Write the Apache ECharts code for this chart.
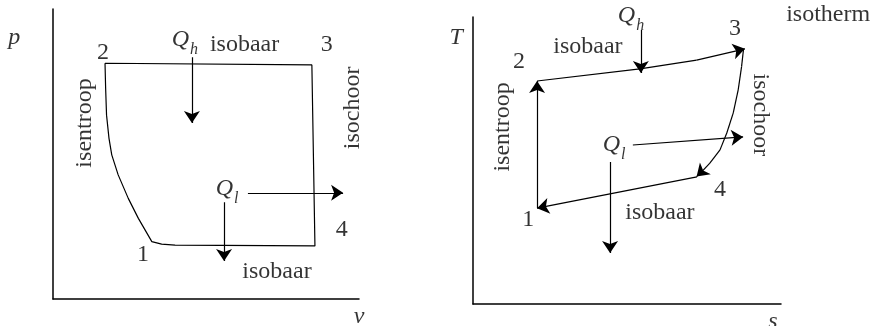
<!DOCTYPE html>
<html>
<head>
<meta charset="utf-8">
<script src="https://cdn.jsdelivr.net/npm/echarts@6/dist/echarts.min.js"></script>
<style>
  html, body { margin: 0; padding: 0; background: #fff; }
  #chart { width: 871px; height: 326px; }
</style>
</head>
<body>
<div id="chart"></div>
<script>
// left: p-v diagram (units 0..10 on both axes)
const pvCycle = [
  [1.70, 8.13], [8.46, 8.07], [8.56, 1.83], [3.99, 1.86], [3.55, 1.89], [3.23, 1.98],
  [2.79, 2.78], [2.46, 3.47], [2.13, 4.28], [1.92, 4.97], [1.83, 5.54], [1.75, 6.34],
  [1.72, 7.27], [1.70, 8.13]
];
const pvArrows = [
  [[4.54, 8.34], [4.54, 6.07]],
  [[6.37, 3.66], [9.48, 3.66]],
  [[5.59, 3.34], [5.59, 1.31]]
];
const pvLabels = [
  [1.63, 8.48, '2'], [8.95, 8.76, '3'], [9.44, 2.38, '4'], [2.94, 1.52, '1'],
  [4.31, 8.90, 'Qh'], [6.26, 8.76, 'isobaar'], [5.69, 3.76, 'Ql'], [7.32, 0.93, 'isobaar']
];
const pvVertLabels = [[1.05, 6.07, 'isentroop'], [9.80, 6.59, 'isochoor']];
const pvAxisNames = [[-1.27, 9.00, 'p'], [10.0, -0.62, 'v']];

// right: T-s diagram
const tsEdges = [
  [[2.08, 7.77], [5.42, 8.19], [7.26, 8.50], [8.83, 8.89]],
  [[8.78, 8.85], [8.72, 8.27], [8.61, 7.46], [8.45, 6.66], [8.24, 5.96], [8.02, 5.37],
   [7.69, 4.91], [7.43, 4.61], [7.26, 4.44]],
  [[7.27, 4.43], [2.08, 3.34]],
  [[2.08, 3.34], [2.08, 7.77]]
];
const tsArrows = [
  [[5.45, 9.55], [5.45, 8.05]],
  [[5.19, 5.54], [8.77, 5.82]],
  [[4.45, 4.95], [4.45, 1.78]]
];
const tsLabels = [
  [1.49, 8.43, '2'], [8.51, 9.58, '3'], [8.02, 3.97, '4'], [1.79, 2.93, '1'],
  [5.13, 10.0, 'Qh'], [3.73, 8.95, 'isobaar'], [4.58, 5.50, 'Ql'], [6.07, 3.17, 'isobaar'],
  [11.53, 10.07, 'isotherm']
];
const tsVertLabelsUp = [[0.97, 6.17, 'isentroop']];
const tsVertLabelsDown = [[9.32, 6.59, 'isochoor']];
const tsAxisNames = [[-0.55, 9.27, 'T'], [9.74, -0.63, 's']];

const serif = 'Liberation Serif';

function axisPair(i) {
  return {
    type: 'value', gridIndex: i, min: 0, max: 10,
    axisLine: { onZero: false, lineStyle: { color: '#000', width: 1.5 } },
    axisTick: { show: false }, axisLabel: { show: false }, splitLine: { show: false }
  };
}

function textSeries(idx, labels, extra) {
  return {
    type: 'scatter', xAxisIndex: idx, yAxisIndex: idx, clip: false, silent: true,
    symbolSize: 1, itemStyle: { color: 'transparent' },
    data: labels.map(([x, y, t]) => ({ value: [x, y], name: t })),
    label: Object.assign({
      show: true, position: 'inside', color: '#000', fontFamily: serif, fontSize: 24,
      formatter: p => (p.name.length === 2 && p.name[0] === 'Q') ? '{q|Q}{s|' + p.name[1] + '}' : p.name,
      rich: {
        q: { fontFamily: serif, fontStyle: 'italic', fontSize: 24, lineHeight: 26, verticalAlign: 'top', color: '#000' },
        s: { fontFamily: serif, fontStyle: 'italic', fontSize: 16, lineHeight: 15, verticalAlign: 'top', padding: [14, 0, 0, 1], color: '#000' }
      }
    }, extra || {})
  };
}

function arrowSeries(idx, paths) {
  const plain = [], tips = [];
  paths.forEach(path => {
    for (let k = 0; k < path.length - 1; k++) {
      const seg = { coords: [path[k], path[k + 1]] };
      (k === path.length - 2 ? tips : plain).push(seg);
    }
  });
  const base = {
    type: 'lines', coordinateSystem: 'cartesian2d', xAxisIndex: idx, yAxisIndex: idx, silent: true,
    lineStyle: { color: '#000', width: 1.2, opacity: 1, curveness: 0 }
  };
  return [
    Object.assign({}, base, { symbol: ['none', 'none'], data: plain }),
    Object.assign({}, base, { symbol: ['none', 'arrow'], symbolSize: [9, 12], data: tips })
  ];
}

const chart = echarts.init(document.getElementById('chart'), null, { renderer: 'canvas' });
chart.setOption({
  backgroundColor: '#fff',
  animation: false,
  grid: [
    { left: 53, top: 9, width: 306, height: 290 },
    { left: 473, top: 17, width: 308, height: 287 }
  ],
  xAxis: [axisPair(0), axisPair(1)],
  yAxis: [axisPair(0), axisPair(1)],
  series: [
    {
      type: 'line', xAxisIndex: 0, yAxisIndex: 0, data: pvCycle, showSymbol: false, silent: true,
      lineStyle: { color: '#000', width: 1.2 }
    },
    ...arrowSeries(0, pvArrows),
    textSeries(0, pvLabels),
    textSeries(0, pvVertLabels, { rotate: 90 }),
    textSeries(0, pvAxisNames, { fontStyle: 'italic' }),
    ...arrowSeries(1, tsEdges),
    ...arrowSeries(1, tsArrows),
    textSeries(1, tsLabels),
    textSeries(1, tsVertLabelsUp, { rotate: 90 }),
    textSeries(1, tsVertLabelsDown, { rotate: -90 }),
    textSeries(1, tsAxisNames, { fontStyle: 'italic' })
  ]
});
window.addEventListener('resize', () => chart.resize());
</script>
</body>
</html>
